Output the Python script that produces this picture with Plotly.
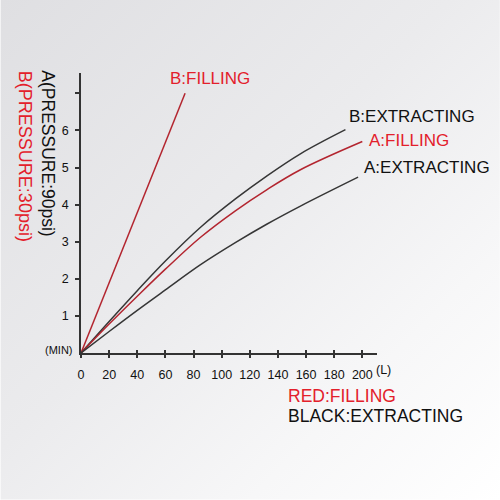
import base64
import plotly.graph_objects as go

# ---------------- data ----------------
b_fill_L = [0, 74]
b_fill_t = [0, 7.0]

b_ext_L = [0, 20, 40, 60, 85, 110, 132, 156, 188]
b_ext_t = [0, 0.85, 1.68, 2.48, 3.39, 4.16, 4.77, 5.37, 6.02]

a_fill_L = [0, 20, 40, 60, 85, 110, 132, 156, 200]
a_fill_t = [0, 0.78, 1.53, 2.26, 3.12, 3.84, 4.40, 4.94, 5.70]

a_ext_L = [0, 20, 40, 60, 85, 110, 132, 156, 197]
a_ext_t = [0, 0.58, 1.15, 1.70, 2.38, 2.98, 3.47, 3.96, 4.74]

x_ticks = [0, 20, 40, 60, 80, 100, 120, 140, 160, 180, 200]
y_ticks = [1, 2, 3, 4, 5, 6, 7]
y_tick_text = ["1", "2", "3", "4", "5", "6", ""]

# ---------------- layout geometry (pixels) ----------------
W, H = 500, 500
PL, PR, PT, PB = 80.7, 377.0, 73.3, 353.3
X_MAX = (PR - PL) / 1.408
Y_MAX = (PB - PT) / 37.1


def px(x):
    return (x - PL) / (PR - PL)


def py(y):
    return (PB - y) / (PB - PT)


BLACK_LINE = "#363636"
RED_LINE = "#b3252f"
RED_TEXT = "#e3202b"
TEXT = "#111111"
FONT = "Liberation Sans, Arial, sans-serif"

fig = go.Figure()
for L, t, c in [
    (b_fill_L, b_fill_t, RED_LINE),
    (b_ext_L, b_ext_t, BLACK_LINE),
    (a_fill_L, a_fill_t, RED_LINE),
    (a_ext_L, a_ext_t, BLACK_LINE),
]:
    fig.add_trace(go.Scatter(x=L, y=t, mode="lines",
                             line=dict(color=c, width=1.5, shape="spline", smoothing=1.0),
                             showlegend=False, hoverinfo="skip", cliponaxis=False))

# background gradient
svg = (
    '<svg xmlns="http://www.w3.org/2000/svg" width="500" height="500">'
    '<defs><linearGradient id="g" x1="0" y1="0" x2="1" y2="1">'
    '<stop offset="0" stop-color="#dfdfe2"/>'
    '<stop offset="0.45" stop-color="#ebebed"/>'
    '<stop offset="0.75" stop-color="#f7f7f8"/>'
    '<stop offset="1" stop-color="#ffffff"/>'
    '</linearGradient></defs><rect width="500" height="500" fill="url(#g)"/></svg>'
)
src = "data:image/svg+xml;base64," + base64.b64encode(svg.encode()).decode()

fig.update_layout(
    width=W, height=H, autosize=False,
    margin=dict(l=PL, r=W - PR, t=PT, b=H - PB, pad=0),
    paper_bgcolor="white", plot_bgcolor="rgba(0,0,0,0)",
    font=dict(family=FONT, color=TEXT),
    images=[dict(source=src, xref="paper", yref="paper", x=px(0), y=py(0),
                 sizex=W / (PR - PL), sizey=H / (PB - PT), xanchor="left", yanchor="top",
                 sizing="stretch", layer="below")],
    xaxis=dict(range=[0, X_MAX], showgrid=False, zeroline=False, showline=True,
               linecolor="#333333", linewidth=1.5, ticks="outside", ticklen=3,
               tickwidth=1.5, tickcolor="#333333", tickvals=x_ticks,
               tickfont=dict(size=12.5, color=TEXT), ticklabelstandoff=6,
               automargin=False),
    xaxis2=dict(range=[0, X_MAX], overlaying="x", matches="x", showgrid=False,
                zeroline=False, showline=False, ticks="inside", ticklen=3,
                tickwidth=1.5, tickcolor="#333333", tickvals=x_ticks[1:],
                showticklabels=False, anchor="y", side="bottom", automargin=False),
    yaxis=dict(range=[0, Y_MAX], showgrid=False, zeroline=False, showline=True,
               linecolor="#333333", linewidth=1.5, ticks="outside", ticklen=4,
               tickwidth=1.5, tickcolor="#333333", tickvals=y_ticks,
               ticktext=y_tick_text, tickfont=dict(size=12.5, color=TEXT),
               ticklabelstandoff=4, automargin=False),
)
# dummy trace to activate xaxis2
fig.add_trace(go.Scatter(x=[None], y=[None], xaxis="x2", yaxis="y", showlegend=False,
                         hoverinfo="skip"))

ann = []


def add(text, x, y, color, size, xanchor="left", yanchor="middle", angle=0):
    ann.append(dict(text=text, x=px(x), y=py(y), xref="paper", yref="paper",
                    showarrow=False, xanchor=xanchor, yanchor=yanchor, textangle=angle,
                    borderpad=0,
                    font=dict(size=size, color=color, family=FONT)))


add("B:FILLING", 168.3, 78.3, RED_TEXT, 17)
add("B:EXTRACTING", 348.3, 116.7, TEXT, 17)
add("A:FILLING", 368.3, 140.7, RED_TEXT, 17)
add("A:EXTRACTING", 363.3, 167.3, TEXT, 17)
add("RED:FILLING", 287, 396.3, RED_TEXT, 17.5)
add("BLACK:EXTRACTING", 287, 415.8, TEXT, 17.5)
add("(MIN)", 44, 350.7, TEXT, 11)
add("(L)", 375, 370.7, TEXT, 12.5)
add("A(PRESSURE:90psi)", 48, 70, TEXT, 17.5, xanchor="center", yanchor="top", angle=90)
add("B(PRESSURE:30psi)", 24, 70, RED_TEXT, 18, xanchor="center", yanchor="top", angle=90)
fig.update_layout(annotations=ann)

fig.write_html("out.html", config={"displayModeBar": False},
               post_script="document.body.style.margin='0';document.body.style.padding='0';")
